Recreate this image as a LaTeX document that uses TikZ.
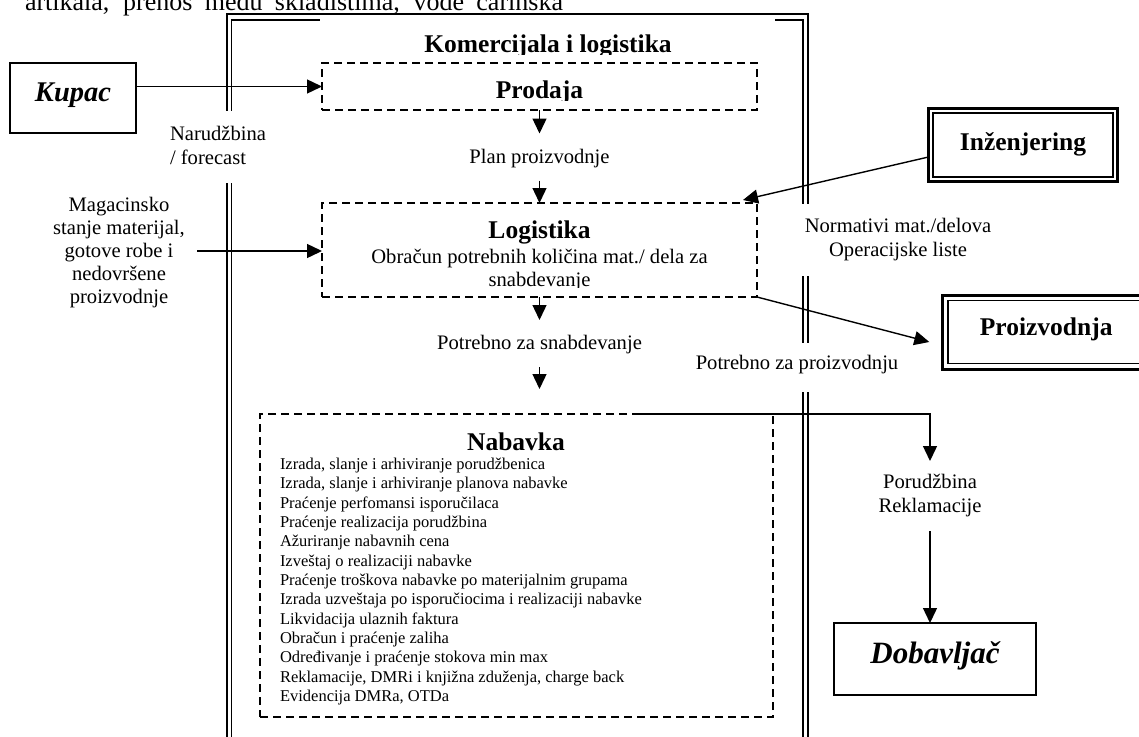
\documentclass[tikz,border=0pt]{standalone}
\usepackage{fontspec}
\setmainfont{Liberation Serif}
\usetikzlibrary{arrows.meta,calc}
\newcommand\fLbl{\fontsize{20.6}{24}\selectfont}
\newcommand\fMag{\fontsize{20.6}{23}\selectfont}
\newcommand\fHead{\fontsize{25.5}{30}\selectfont\bfseries}
\newcommand\fKup{\fontsize{28.5}{34}\selectfont\bfseries\itshape}
\newcommand\fDob{\fontsize{31}{36}\selectfont\bfseries\itshape}
\newcommand\fItem{\fontsize{16.5}{19.35}\selectfont}
\newcommand\fTop{\fontsize{26}{30}\selectfont}
\begin{document}
\begin{tikzpicture}[x=1pt,y=-1pt,
  every node/.style={inner sep=0pt, outer sep=0pt},
  arr/.style={-{Triangle[length=15pt,width=14pt]}, line width=1.4pt},
  dbox/.style={draw, line width=1.4pt, dash pattern=on 8pt off 5pt},
  sbox/.style={draw, line width=1.6pt},
  tbox/.style={draw, line width=3pt},
  tinner/.style={line width=1.8pt},
  frameout/.style={line width=2pt},
  framein/.style={line width=1.6pt},
  wlbl/.style={fill=white, font=\fLbl},
]
\fill[white] (0,0) rectangle (1139,736);
\useasboundingbox (0,0) rectangle (1139,736);

% clipped text line at the top
\node[anchor=base west, font=\fTop] (toptext) at (25,10)
  {\makebox[538pt][s]{artikala, prenos među skladištima, vođe carinska}};

% outer frame (double line)
\draw[frameout] (227,760) -- (227,14) -- (807.5,14) -- (807.5,760);
\draw[framein] (231.5,760) -- (231.5,20) -- (803,20) -- (803,760);

% title
\fill[white] (320,17.2) rectangle (775,60);
\begin{scope}
  \clip (320,17) rectangle (775,54);
  \node[anchor=base, font=\fHead] (title) at (548,52) {Komercijala i logistika};
\end{scope}

% labels that interrupt the frame
\node[wlbl, align=left, anchor=west, inner xsep=4pt, inner ysep=12pt] (narud) at (166,147.2)
  {\strut Narudžbina\\\strut / forecast};
\node[wlbl, align=center, inner xsep=6pt, inner ysep=12pt] (norm) at (898,240)
  {\strut Normativi mat./delova\\\strut Operacijske liste};
\node[wlbl, inner xsep=4pt, inner ysep=11pt, text height=15pt, text depth=12pt] (potP) at (797,367.5)
  {Potrebno za proizvodnju};

% other labels
\node[font=\fMag, align=center] (mag) at (119,252.4)
  {\strut Magacinsko\\\strut stanje materijal,\\\strut gotove robe i\\\strut nedovršene\\\strut proizvodnje};
\node[font=\fLbl, text height=15pt, text depth=3pt, minimum height=47pt] (plan) at (539.5,157) {Plan proizvodnje};
\node[font=\fLbl, text height=14pt, text depth=3pt, minimum height=47pt] (potS) at (539.5,343.5) {Potrebno za snabdevanje};
\node[font=\fLbl, align=center, minimum height=70pt] (porud) at (930,496)
  {\strut Porudžbina\\\strut Reklamacije};

% boxes
\node[sbox, minimum width=126pt, minimum height=70pt, font=\fKup, text height=20pt, text depth=12.6pt] (kupac) at (73,98) {Kupac};

\node[dbox, minimum width=435pt, minimum height=47pt] (prodaja) at (539.5,86.5) {};
\begin{scope}
  \clip (322,63) rectangle (757,100);
  \node[anchor=base, font=\fHead] (prodajaT) at (539.5,98) {Prodaja};
\end{scope}

\node[dbox, minimum width=435pt, minimum height=94pt] (logistika) at (539.5,250) {};
\node[anchor=base, font=\fHead] (logT) at (539.5,238) {Logistika};
\node[anchor=base, font=\fLbl] (logL1) at (539.5,263) {Obračun potrebnih količina mat./ dela za};
\begin{scope}
  \clip (322,203) rectangle (757,287.5);
  \node[anchor=base, font=\fLbl] (logL2) at (539.5,286.5) {snabdevanje};
\end{scope}

\node[dbox, minimum width=513pt, minimum height=303pt] (nabavka) at (516.5,565.5) {};
\node[anchor=base, font=\fHead] (nabT) at (516,450) {Nabavka};
\foreach \t [count=\i] in {
  {Izrada, slanje i arhiviranje porudžbenica},
  {Izrada, slanje i arhiviranje planova nabavke},
  {Praćenje perfomansi isporučilaca},
  {Praćenje realizacija porudžbina},
  {Ažuriranje nabavnih cena},
  {Izveštaj o realizaciji nabavke},
  {Praćenje troškova nabavke po materijalnim grupama},
  {Izrada uzveštaja po isporučiocima i realizaciji nabavke},
  {Likvidacija ulaznih faktura},
  {Obračun i praćenje zaliha},
  {Određivanje i praćenje stokova min max},
  {Reklamacije, DMRi i knjižna zduženja, charge back},
  {Evidencija DMRa, OTDa}}
  \node[anchor=base west, font=\fItem] (nab\i) at (280,{469.3+19.35*(\i-1)}) {\t};

\node[tbox, minimum width=189pt, minimum height=73pt, font=\fHead, text height=20pt, text depth=10pt] (inz) at (1023,145) {Inženjering};
\draw[tinner] ($(inz.north west)+(4.5,4.5)$) rectangle ($(inz.south east)+(-4.5,-4.5)$);

\node[tbox, minimum width=207.7pt, minimum height=74pt, font=\fHead, text height=19pt, text depth=13pt] (proiz) at (1046.15,332) {Proizvodnja};
\draw[tinner] ($(proiz.north west)+(5.5,5.5)$) rectangle ($(proiz.south east)+(-5.5,-5.5)$);

\node[sbox, minimum width=202pt, minimum height=72pt, font=\fDob, text height=21pt, text depth=13pt] (dobav) at (935,659) {Dobavljač};

% free connector ends
\coordinate (magS) at (197,251);
\coordinate (nabIn) at (539.5,389);
\coordinate (nabOut) at (633,414);

% connectors
\draw[arr] (kupac.east |- prodaja.west) -- (prodaja.west);
\draw[arr] (magS) -- (magS -| logistika.west);
\draw[arr] (prodaja.south) -- (plan.north);
\draw[arr] (plan.south) -- (logistika.north);
\draw[arr] (logistika.south) -- (potS.north);
\draw[arr] (potS.south) -- (nabIn);
\draw[arr] ($(inz.west)+(0,12)$) -- ($(logistika.north east)+(-14,-3)$);
\draw[arr] (logistika.south east) -- ($(proiz.west)+(-13,10)$);
\draw[arr] (nabOut) -| (porud.north);
\draw[arr] (porud.south) -- (porud.south |- dobav.north);
\end{tikzpicture}
\end{document}
